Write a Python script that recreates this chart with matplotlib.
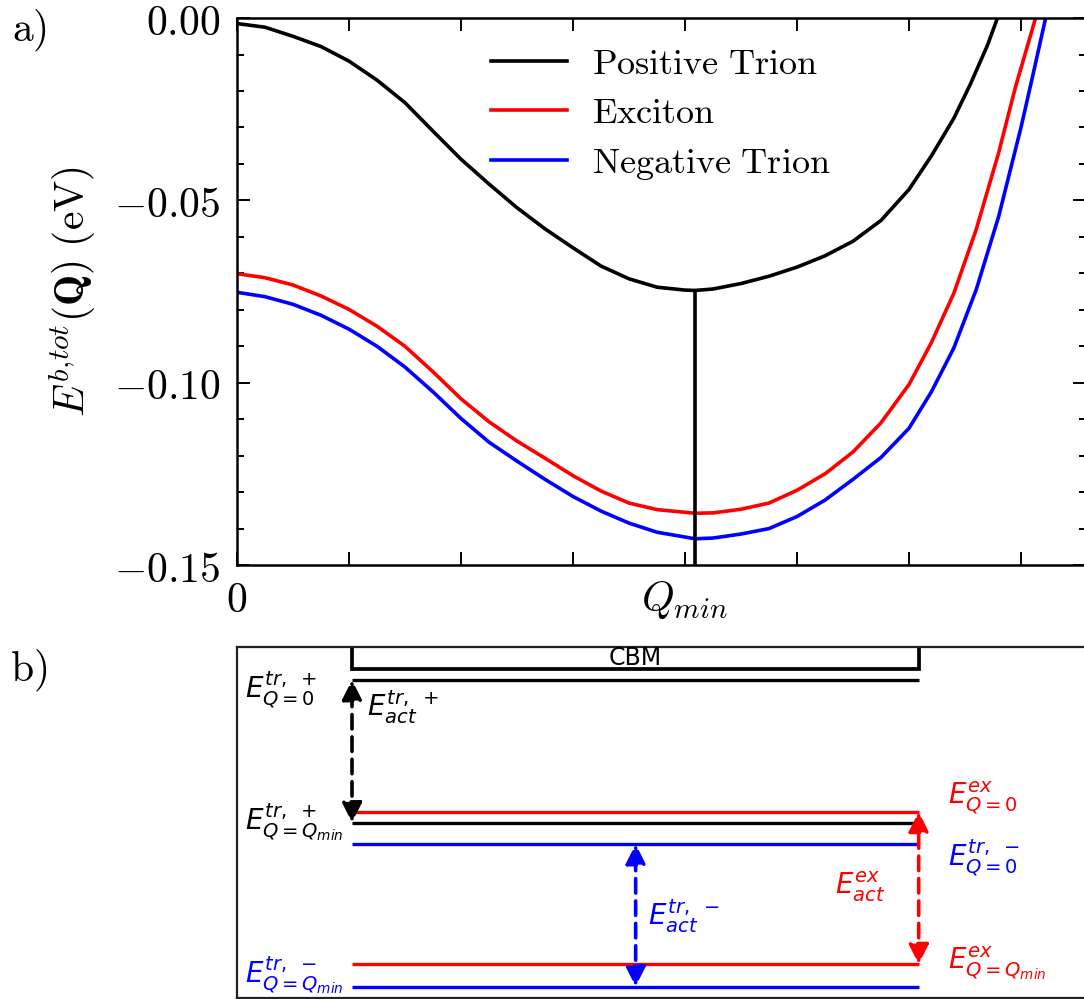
import matplotlib
matplotlib.use("Agg")
import matplotlib.pyplot as plt
from matplotlib.ticker import MultipleLocator

plt.rcParams['mathtext.fontset'] = 'cm'

# a) total binding energy vs centre-of-mass momentum (Q in units of the x tick spacing)
q_pos = [0.0, 0.25, 0.5, 0.75, 1.0, 1.25, 1.5, 1.75, 2.0, 2.25, 2.5, 2.75, 3.0, 3.25,
         3.5, 3.75, 4.0, 4.09, 4.25, 4.5, 4.75, 5.0, 5.25, 5.5, 5.75, 6.0, 6.2, 6.4,
         6.55, 6.7, 6.79]
e_pos = [-0.0015, -0.0025, -0.0050, -0.0078, -0.0118, -0.0170, -0.0232, -0.0310, -0.0387,
         -0.0455, -0.0520, -0.0578, -0.0630, -0.0680, -0.0715, -0.0738, -0.0746, -0.0747,
         -0.0743, -0.0728, -0.0708, -0.0683, -0.0652, -0.0612, -0.0555, -0.0470, -0.0378,
         -0.0275, -0.0180, -0.0075, 0.0]

q_ex = [0.0, 0.25, 0.5, 0.75, 1.0, 1.25, 1.5, 1.75, 2.0, 2.25, 2.5, 2.75, 3.0, 3.25,
        3.5, 3.75, 4.09, 4.25, 4.5, 4.75, 5.0, 5.25, 5.5, 5.75, 6.0, 6.2, 6.4, 6.6,
        6.8, 6.95, 7.13]
e_ex = [-0.0701, -0.0712, -0.0732, -0.0762, -0.0799, -0.0845, -0.0900, -0.0970, -0.1044,
        -0.1107, -0.1160, -0.1207, -0.1255, -0.1297, -0.1330, -0.1348, -0.1358, -0.1357,
        -0.1347, -0.1330, -0.1295, -0.1250, -0.1190, -0.1110, -0.1005, -0.0890, -0.0755,
        -0.0580, -0.0370, -0.0190, 0.0]

q_neg = [0.0, 0.25, 0.5, 0.75, 1.0, 1.25, 1.5, 1.75, 2.0, 2.25, 2.5, 2.75, 3.0, 3.25,
         3.5, 3.75, 4.09, 4.25, 4.5, 4.75, 5.0, 5.25, 5.5, 5.75, 6.0, 6.2, 6.4, 6.6,
         6.8, 7.0, 7.1, 7.22]
e_neg = [-0.0752, -0.0764, -0.0785, -0.0815, -0.0853, -0.0900, -0.0957, -0.1025, -0.1098,
         -0.1163, -0.1215, -0.1265, -0.1312, -0.1352, -0.1385, -0.1410, -0.1428, -0.1426,
         -0.1415, -0.1400, -0.1367, -0.1322, -0.1265, -0.1205, -0.1125, -0.1025, -0.0905,
         -0.0745, -0.0545, -0.0300, -0.0165, 0.0]

q_min = 4.09
e_pos_min = -0.0747

x_ticks = [0, 1, 2, 3, 4, 5, 6, 7]
x_ticklabels = ['$0$', '', '', '', '$Q_{min}$', '', '', '']
y_ticks = [0.0, -0.05, -0.10, -0.15]
y_ticklabels = ['$0.00$', '$-0.05$', '$-0.10$', '$-0.15$']

# b) level scheme (arbitrary energy scale: 0 = bottom of box, 1 = top)
lvl_cbm = 0.937
lvl_trp_0 = 0.906
lvl_ex_0 = 0.530
lvl_trp_min = 0.499
lvl_trn_0 = 0.438
lvl_ex_min = 0.095
lvl_trn_min = 0.031
lvl_x0, lvl_x1 = 0.1355, 0.803
arrow_x_neg = 0.4696

fig = plt.figure(figsize=(10.84, 9.99), dpi=100)

# ---------------- panel a ----------------
ax = fig.add_axes([0.2186, 0.4344, 0.7832, 0.5475])
lw_c = 2.6
ax.plot(q_pos, e_pos, color='black', lw=lw_c, label=r'$\mathrm{Positive\ Trion}$')
ax.plot(q_ex, e_ex, color='red', lw=lw_c, label=r'$\mathrm{Exciton}$')
ax.plot(q_neg, e_neg, color='blue', lw=lw_c, label=r'$\mathrm{Negative\ Trion}$')
ax.vlines(q_min, -0.15, e_pos_min, color='black', lw=lw_c)

ax.set_xlim(0, 7.58)
ax.set_ylim(-0.15, 0.0)
ax.set_xticks(x_ticks)
ax.set_xticklabels(x_ticklabels)
ax.set_yticks(y_ticks)
ax.set_yticklabels(y_ticklabels)
ax.yaxis.set_minor_locator(MultipleLocator(0.01))
ax.tick_params(which='both', direction='in', top=True, right=True, width=1.4,
               labelsize=30)
ax.tick_params(which='major', length=9.5)
ax.tick_params(which='minor', length=5)
ax.tick_params(axis='y', pad=12)
ax.tick_params(axis='x', pad=10)
for s in ax.spines.values():
    s.set_linewidth(1.8)

ax.set_ylabel(r'$E^{b,\!tot}(\mathbf{Q})\ (\mathrm{eV})$', fontsize=30)
ax.yaxis.set_label_coords(-0.164, 0.5)

ax.legend(loc='upper left', bbox_to_anchor=(0.299, 0.948), frameon=False,
          fontsize=26, handlelength=2.1, handletextpad=0.7, labelspacing=0.43,
          borderpad=0, borderaxespad=0)

fig.text(0.011, 0.970, r'$\mathrm{a)}$', fontsize=30, va='center', ha='left')
fig.text(0.009, 0.329, r'$\mathrm{b)}$', fontsize=30, va='center', ha='left')

# ---------------- panel b ----------------
bx = fig.add_axes([0.2186, 0.0015, 0.7850, 0.3509])
bx.set_xlim(0, 1.0023)
bx.set_ylim(0, 1)
bx.set_xticks([])
bx.set_yticks([])
for s in bx.spines.values():
    s.set_linewidth(1.6)
    s.set_color('#222222')

lw_lvl = 2.4
# CBM bracket
bx.plot([lvl_x0, lvl_x0, lvl_x1, lvl_x1], [1.0, lvl_cbm, lvl_cbm, 1.0],
        color='black', lw=2.7, solid_joinstyle='miter')
bx.text((lvl_x0 + lvl_x1) / 2, 0.968, 'CBM', fontsize=17, ha='center', va='center',
        family='DejaVu Sans')

bx.hlines([lvl_trp_0, lvl_trp_min], lvl_x0, lvl_x1, color='black', lw=lw_lvl)
bx.hlines([lvl_ex_0, lvl_ex_min], lvl_x0, lvl_x1, color='red', lw=lw_lvl)
bx.hlines([lvl_trn_0, lvl_trn_min], lvl_x0, lvl_x1, color='blue', lw=lw_lvl)


def act_arrow(x, y_top, y_bot, c):
    bx.annotate('', xy=(x, y_top), xytext=(x, y_bot),
                arrowprops=dict(arrowstyle='<|-|>', color=c, lw=2.6, ls=(0, (4, 2.2)),
                                mutation_scale=30, shrinkA=0, shrinkB=0))


act_arrow(lvl_x0, lvl_trp_0, lvl_trp_min, 'black')
act_arrow(arrow_x_neg, lvl_trn_0, lvl_trn_min, 'blue')
act_arrow(lvl_x1, lvl_ex_0, lvl_ex_min, 'red')

labels_b = [
    (r'$E^{tr,\ +}_{Q=0}$', 0.0094, 0.877, 'black'),
    (r'$E^{tr,\ +}_{act}$', 0.153, 0.829, 'black'),
    (r'$E^{tr,\ +}_{Q=Q_{min}}$', 0.0094, 0.500, 'black'),
    (r'$E^{tr,\ -}_{Q=Q_{min}}$', 0.0094, 0.064, 'blue'),
    (r'$E^{tr,\ -}_{act}$', 0.484, 0.233, 'blue'),
    (r'$E^{ex}_{act}$', 0.704, 0.315, 'red'),
    (r'$E^{ex}_{Q=0}$', 0.837, 0.569, 'red'),
    (r'$E^{tr,\ -}_{Q=0}$', 0.837, 0.398, 'blue'),
    (r'$E^{ex}_{Q=Q_{min}}$', 0.837, 0.098, 'red'),
]
for txt, x, y, c in labels_b:
    bx.text(x, y, txt, fontsize=20, color=c, ha='left', va='center',
            math_fontfamily='dejavusans')

fig.savefig('out.png', dpi=100)
